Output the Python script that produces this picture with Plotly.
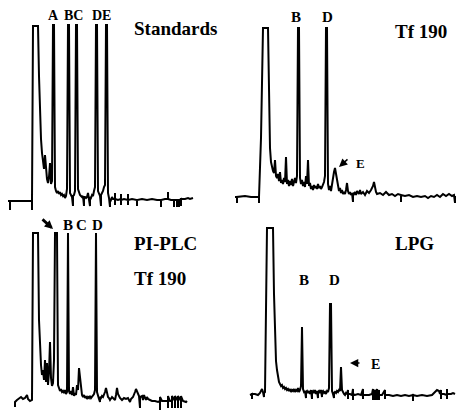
import plotly.graph_objects as go

# ---------------- data (scan index, detector response) ----------------
# Panel 1: Standards
std_trace = [
    (8, 0), (10, 0), (10, -9), (10, 0), (32, 0), (32, -9), (32, 0), (33, 175), (38, 175),
    (39, 125), (40, 85), (41, 62), (42, 48), (43, 38), (44, 32), (45, 46), (46, 27), (47, 22),
    (48, 18), (49, 24), (50, 38), (51, 17), (52, 20), (53, 176), (54, 176), (55, 14), (56, 10),
    (57, 8), (58, 10), (59, 7), (60, 9), (61, 6), (62, 7), (63, 5), (64, 6), (65, 3), (66, 5),
    (67, 12), (68, 176), (69, 176), (70, 8), (71, 6), (72, 4), (73, -5), (73, 5), (74, 6),
    (75, 10), (76, 176), (77, 176), (78, 12), (79, 8), (80, 6), (81, 5), (82, 4), (83, 5),
    (84, -5), (84, 4), (85, 4), (86, 3), (87, 4), (88, 8), (89, 3), (90, -5), (90, 4), (91, 3),
    (92, 6), (93, 5), (94, 10), (95, 14), (96, 176), (97, 176), (98, 10), (99, 6), (100, 5),
    (101, -5), (101, 6), (102, 8), (103, 10), (104, 14), (105, 16), (106, 176), (107, 176),
    (108, 8), (109, 3), (110, -6), (110, 2), (111, 1), (112, 4), (113, 2), (115, 2), (115, 8),
    (115, -4), (115, 2), (118, 1), (121, 2), (121, 7), (121, -4), (121, 1), (124, 2), (128, 1),
    (128, 7), (128, -4), (128, 1), (132, 2), (135, 1), (137, 1), (137, -5), (137, 1), (142, 2),
    (147, 1), (152, 2), (157, 1), (161, 1), (161, -6), (161, 1), (165, 2), (168, 2), (168, 9),
    (168, 2), (171, 1), (174, 1), (174, -6), (174, 1), (177, 1), (177, -6), (177, 1), (179, 1),
    (179, -6), (179, 1), (181, 2), (181, -5), (181, 2), (185, 2), (188, 3), (190, 2), (193, 3),
]

# Panel 2: Tf 190
tf_trace = [
    (8, 1), (10, 1), (10, -5), (10, 1), (18, 2), (24, 1), (30, 1), (32, 1), (32, -5), (32, 1),
    (34, 60), (36, 170), (41, 170), (42, 100), (43, 50), (44, 36), (45, 30), (46, 27), (47, 25),
    (48, 38), (49, 22), (50, 20), (51, 24), (52, 17), (53, 26), (54, 15), (55, 18), (56, 14),
    (57, 20), (58, 16), (59, 41), (60, 14), (61, 18), (62, 12), (63, 17), (64, 13), (65, 19),
    (66, 12), (67, 16), (68, 20), (69, 15), (70, 22), (71, 170), (72, 170), (73, 20), (74, 14),
    (75, 18), (76, 12), (77, 16), (78, 11), (79, 22), (80, 14), (81, 38), (82, 12), (83, 15),
    (84, 9), (85, 12), (86, 8), (87, 13), (88, 10), (89, 12), (90, 9), (91, 14), (92, 10),
    (93, 12), (94, 9), (95, 11), (96, 14), (97, 16), (98, 22), (99, 170), (100, 170), (101, 14),
    (102, 8), (103, 12), (104, 7), (105, 15), (106, 20), (107, 26), (108, 30), (109, 24),
    (110, 16), (111, 9), (112, 7), (113, 10), (114, 5), (115, 8), (116, 4), (117, 6), (118, 4),
    (119, 8), (120, 15), (121, 7), (122, 4), (123, 6), (124, 3), (125, 5), (126, -4), (126, 5),
    (127, 4), (128, 6), (129, 3), (130, 7), (132, 4), (133, 8), (134, 4), (136, 6), (138, 3),
    (140, 7), (142, 5), (144, 8), (146, 12), (147, 16), (148, 10), (149, 6), (150, 4), (153, 5),
    (156, 3), (159, 6), (162, 3), (165, 4), (168, 2), (171, 4), (174, 3), (174, -4), (174, 3),
    (178, 2), (182, 3), (186, 1), (190, 2), (194, 1), (198, 2), (201, 0), (204, 2), (207, 1),
    (210, 3), (213, 1), (216, 4), (219, 2), (222, 4), (225, 2), (227, 3), (228, -5), (228, 2),
]

# Panel 3: PI-PLC, Tf 190
plc_trace = [
    (15, -7), (15, -2), (17, 0), (19, 2), (21, 3), (23, 1), (25, 2), (27, 5), (28, 1), (30, -1),
    (32, 0), (33, 167), (38, 167), (39, 80), (40, 50), (41, 35), (42, 25), (43, 30), (44, 20),
    (45, 40), (46, 18), (47, 37), (48, 15), (49, 28), (50, 58), (51, 22), (52, 14), (53, 17),
    (54, 40), (55, 167), (57, 167), (58, 15), (59, 12), (60, 9), (61, 11), (62, 8), (63, 9),
    (64, 7), (65, 10), (66, 6), (67, 8), (68, 167), (69, 9), (70, 6), (71, 9), (72, 5), (73, 13),
    (74, 4), (75, 7), (76, 5), (77, 15), (78, 10), (79, 32), (80, 20), (81, 8), (82, 5), (83, 3),
    (84, 5), (85, 2), (86, 4), (87, 1), (88, 3), (89, 2), (90, 4), (91, 2), (92, 3), (93, 5),
    (94, 6), (95, 10), (96, 167), (97, 8), (98, 3), (99, 1), (100, -2), (100, 3), (101, 2),
    (102, 4), (103, 3), (104, 5), (105, 8), (106, 12), (107, 6), (108, 3), (109, 2), (110, 0),
    (112, 3), (114, 1), (115, 0), (116, 5), (117, 12), (118, 6), (120, 2), (122, 0), (124, 2),
    (126, 1), (128, 2), (130, -2), (131, 1), (133, 3), (134, 7), (135, 8), (136, 11), (137, 9),
    (138, 6), (139, 4), (140, -8), (140, 3), (142, 4), (143, 0), (144, 5), (145, 3), (146, 0),
    (147, 3), (148, 1), (150, 0), (152, -1), (155, -1), (158, -2), (160, -1), (160, -10),
    (160, 3), (162, -1), (165, -1), (168, -1), (168, -8), (168, 4), (170, -1), (172, -1),
    (172, -8), (172, 4), (175, -1), (175, -8), (175, 4), (178, -1), (178, -8), (178, 4),
    (181, -1), (181, -8), (181, 4), (183, -1), (186, -2), (187, -1),
]

# Panel 4: LPG
lpg_trace = [
    (23, -1), (25, 0), (25, -5), (25, 0), (28, 0), (31, -1), (33, 1), (34, 4), (35, 5), (36, 2),
    (37, -3), (37, 1), (38, 2), (40, 166), (46, 166), (47, 100), (48, 55), (49, 33), (50, 24),
    (51, 16), (52, 12), (53, 10), (54, 8), (55, 9), (56, 6), (57, 7), (58, 5), (59, 6), (60, 4),
    (61, 5), (62, 3), (63, 5), (64, 2), (65, 4), (66, 3), (67, 5), (68, 2), (69, 4), (70, 3),
    (71, 6), (72, 2), (73, 4), (74, 8), (75, 67), (76, 5), (77, 2), (78, 3), (79, -4), (79, 2),
    (80, 3), (81, 1), (82, 3), (83, 0), (84, 4), (85, -5), (85, 2), (86, 3), (87, 1), (88, 4),
    (89, 0), (90, 3), (91, -4), (91, 2), (92, 3), (93, 1), (94, 4), (95, -3), (95, 2), (96, 3),
    (97, 1), (98, 2), (99, 0), (100, 3), (101, 2), (102, 6), (103, 90), (104, 90), (105, 3),
    (106, 0), (107, -4), (107, 1), (108, 2), (109, 1), (110, 3), (111, 2), (112, 4), (113, 3),
    (114, 27), (115, 4), (116, 1), (117, 0), (118, -1), (119, 1), (120, 0), (121, 4), (121, -5),
    (121, 0), (123, 0), (125, -1), (126, 5), (126, -6), (126, 0), (128, -1), (131, 0), (134, -1),
    (136, 5), (136, -5), (136, -1), (139, -1), (142, -1), (145, 0), (146, 5), (146, -6), (146, 0),
    (148, 4), (148, -6), (148, 0), (150, 5), (150, -6), (150, -1), (152, 4), (152, -6), (152, -1),
    (155, -1), (158, 4), (158, -5), (158, -1), (162, -1), (166, -2), (170, -1), (174, -2),
    (178, -1), (182, -2), (186, -1), (186, -7), (186, -1), (190, -2), (195, -1), (200, -2),
    (205, -1), (208, 2), (210, 4), (212, 3), (213, 0), (214, 4), (214, -5), (214, 0), (217, 0),
    (220, -1), (220, 5), (220, -5), (220, 0), (224, 0), (226, 1), (228, 0),
]

panel_titles = [["Standards"], ["Tf 190"], ["PI-PLC", "Tf 190"], ["LPG"]]
std_peaks = ["A", "BC", "DE"]
tf_peaks = ["B", "D", "E"]
plc_peaks = ["B", "C", "D"]
lpg_peaks = ["B", "D", "E"]

# ---------------- layout helpers (pixel placement) ----------------
W, H = 457, 413
SERIF = "Liberation Serif"
# (trace, left offset px, baseline px)
panels = [(std_trace, 0, 201), (tf_trace, 227, 198), (plc_trace, 0, 400), (lpg_trace, 227, 394)]

fig = go.Figure()
layout_axes = {}
for i, (trace, x0, base) in enumerate(panels, start=1):
    xs = [p[0] for p in trace]
    ys = [p[1] for p in trace]
    sfx = "" if i == 1 else str(i)
    fig.add_trace(go.Scatter(
        x=xs, y=ys, mode="lines", line=dict(color="black", width=2.0),
        xaxis="x" + sfx, yaxis="y" + sfx, hoverinfo="skip", showlegend=False,
        cliponaxis=False,
    ))
    layout_axes["xaxis" + sfx] = dict(domain=[0, 1], range=[-x0, W - x0], visible=False,
                                      anchor="y" + sfx, fixedrange=True)
    layout_axes["yaxis" + sfx] = dict(domain=[0, 1], range=[base - H, base], visible=False,
                                      anchor="x" + sfx, fixedrange=True)


def P(x, y):
    return x / W, 1 - y / H


ann = []


def label(text, x, y, size, xanchor="center", bold=True):
    px, py = P(x, y)
    ann.append(dict(text=text, x=px, y=py, xref="paper", yref="paper", showarrow=False,
                    xanchor=xanchor, yanchor="middle",
                    font=dict(family=SERIF, size=size, color="black",
                              weight="bold" if bold else "normal")))


def arrow(x_tip, y_tip, dx, dy, width, size=1.0):
    px, py = P(x_tip, y_tip)
    ann.append(dict(text="", x=px, y=py, xref="paper", yref="paper", showarrow=True,
                    ax=dx, ay=dy, arrowhead=2, arrowsize=size, arrowwidth=width,
                    arrowcolor="black", standoff=0, startstandoff=0))


# panel titles
label(panel_titles[0][0], 132, 29, 19, "left")
label(panel_titles[1][0], 393, 31, 19, "left")
label(panel_titles[2][0], 132, 243, 19, "left")
label(panel_titles[2][1], 132, 278, 19, "left")
label(panel_titles[3][0], 393, 244, 19, "left")

# peak letters
label(std_peaks[0], 53, 16, 14)
label(std_peaks[1], 73, 16, 14)
label(std_peaks[2], 101, 16, 14)
label(tf_peaks[0], 296, 17, 15)
label(tf_peaks[1], 327, 17, 15)
label(tf_peaks[2], 360, 163, 13)
label(plc_peaks[0], 68, 225, 15)
label(plc_peaks[1], 81, 225, 15)
label(plc_peaks[2], 97, 225, 15)
label(lpg_peaks[0], 304, 280, 15)
label(lpg_peaks[1], 334, 280, 15)
label(lpg_peaks[2], 375, 364, 14)

# arrows
arrow(339, 167, 10, -9, 1.5, 1.1)
arrow(350, 363, 11, 0, 1.5, 1.1)
arrow(53, 229, -12, -11, 2.8, 0.6)

fig.update_layout(
    width=W, height=H, margin=dict(l=0, r=0, t=0, b=0),
    paper_bgcolor="white", plot_bgcolor="rgba(0,0,0,0)",
    annotations=ann, **layout_axes,
)

fig.write_html("out.html", config={"displayModeBar": False, "staticPlot": True},
               post_script="document.body.style.margin='0';document.body.style.padding='0';")
